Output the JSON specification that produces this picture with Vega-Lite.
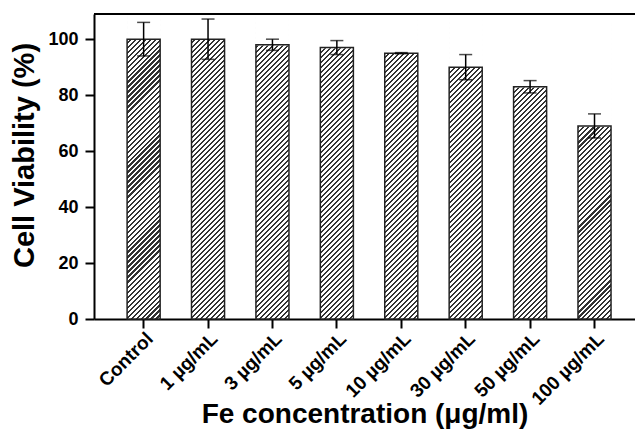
{
  "$schema": "https://vega.github.io/schema/vega-lite/v6.json",
  "width": 541,
  "height": 305,
  "autosize": {"type": "none"},
  "padding": {"left": 94, "top": 14, "right": 0, "bottom": 115},
  "background": "white",
  "config": {
    "view": {"stroke": null},
    "font": "Liberation Sans"
  },
  "data": {
    "values": [
      {"group": "Control", "mean": 100, "sd": 6},
      {"group": "1 µg/mL", "mean": 100, "sd": 7.2},
      {"group": "3 µg/mL", "mean": 98, "sd": 2},
      {"group": "5 µg/mL", "mean": 97, "sd": 2.5},
      {"group": "10 µg/mL", "mean": 95, "sd": 0.2},
      {"group": "30 µg/mL", "mean": 90, "sd": 4.5},
      {"group": "50 µg/mL", "mean": 83, "sd": 2.2},
      {"group": "100 µg/mL", "mean": 69, "sd": 4.3}
    ]
  },
  "layer": [
    {
      "mark": {
        "type": "bar",
        "stroke": null,
        "fill": {
          "gradient": "linear",
          "x1": 0, "y1": 0, "x2": 0.119371, "y2": 1.101821,
          "stops": [
            {"offset":0,"color":"#fff"},{"offset":0.0085,"color":"#fff"},{"offset":0.0085,"color":"#333"},{"offset":0.0147,"color":"#333"},
            {"offset":0.0147,"color":"#fff"},{"offset":0.0232,"color":"#fff"},{"offset":0.0232,"color":"#333"},{"offset":0.0294,"color":"#333"},
            {"offset":0.0294,"color":"#fff"},{"offset":0.0379,"color":"#fff"},{"offset":0.0379,"color":"#333"},{"offset":0.0441,"color":"#333"},
            {"offset":0.0441,"color":"#fff"},{"offset":0.0527,"color":"#fff"},{"offset":0.0527,"color":"#333"},{"offset":0.0588,"color":"#333"},
            {"offset":0.0588,"color":"#fff"},{"offset":0.0674,"color":"#fff"},{"offset":0.0674,"color":"#333"},{"offset":0.0735,"color":"#333"},
            {"offset":0.0735,"color":"#fff"},{"offset":0.0821,"color":"#fff"},{"offset":0.0821,"color":"#333"},{"offset":0.0882,"color":"#333"},
            {"offset":0.0882,"color":"#fff"},{"offset":0.0968,"color":"#fff"},{"offset":0.0968,"color":"#333"},{"offset":0.1029,"color":"#333"},
            {"offset":0.1029,"color":"#fff"},{"offset":0.1115,"color":"#fff"},{"offset":0.1115,"color":"#333"},{"offset":0.1176,"color":"#333"},
            {"offset":0.1176,"color":"#fff"},{"offset":0.1262,"color":"#fff"},{"offset":0.1262,"color":"#333"},{"offset":0.1324,"color":"#333"},
            {"offset":0.1324,"color":"#fff"},{"offset":0.1409,"color":"#fff"},{"offset":0.1409,"color":"#333"},{"offset":0.1471,"color":"#333"},
            {"offset":0.1471,"color":"#fff"},{"offset":0.1556,"color":"#fff"},{"offset":0.1556,"color":"#333"},{"offset":0.1618,"color":"#333"},
            {"offset":0.1618,"color":"#fff"},{"offset":0.1703,"color":"#fff"},{"offset":0.1703,"color":"#333"},{"offset":0.1765,"color":"#333"},
            {"offset":0.1765,"color":"#fff"},{"offset":0.1850,"color":"#fff"},{"offset":0.1850,"color":"#333"},{"offset":0.1912,"color":"#333"},
            {"offset":0.1912,"color":"#fff"},{"offset":0.1997,"color":"#fff"},{"offset":0.1997,"color":"#333"},{"offset":0.2059,"color":"#333"},
            {"offset":0.2059,"color":"#fff"},{"offset":0.2144,"color":"#fff"},{"offset":0.2144,"color":"#333"},{"offset":0.2206,"color":"#333"},
            {"offset":0.2206,"color":"#fff"},{"offset":0.2291,"color":"#fff"},{"offset":0.2291,"color":"#333"},{"offset":0.2353,"color":"#333"},
            {"offset":0.2353,"color":"#fff"},{"offset":0.2438,"color":"#fff"},{"offset":0.2438,"color":"#333"},{"offset":0.2500,"color":"#333"},
            {"offset":0.2500,"color":"#fff"},{"offset":0.2585,"color":"#fff"},{"offset":0.2585,"color":"#333"},{"offset":0.2647,"color":"#333"},
            {"offset":0.2647,"color":"#fff"},{"offset":0.2732,"color":"#fff"},{"offset":0.2732,"color":"#333"},{"offset":0.2794,"color":"#333"},
            {"offset":0.2794,"color":"#fff"},{"offset":0.2879,"color":"#fff"},{"offset":0.2879,"color":"#333"},{"offset":0.2941,"color":"#333"},
            {"offset":0.2941,"color":"#fff"},{"offset":0.3027,"color":"#fff"},{"offset":0.3027,"color":"#333"},{"offset":0.3088,"color":"#333"},
            {"offset":0.3088,"color":"#fff"},{"offset":0.3174,"color":"#fff"},{"offset":0.3174,"color":"#333"},{"offset":0.3235,"color":"#333"},
            {"offset":0.3235,"color":"#fff"},{"offset":0.3321,"color":"#fff"},{"offset":0.3321,"color":"#333"},{"offset":0.3382,"color":"#333"},
            {"offset":0.3382,"color":"#fff"},{"offset":0.3468,"color":"#fff"},{"offset":0.3468,"color":"#333"},{"offset":0.3529,"color":"#333"},
            {"offset":0.3529,"color":"#fff"},{"offset":0.3615,"color":"#fff"},{"offset":0.3615,"color":"#333"},{"offset":0.3676,"color":"#333"},
            {"offset":0.3676,"color":"#fff"},{"offset":0.3762,"color":"#fff"},{"offset":0.3762,"color":"#333"},{"offset":0.3824,"color":"#333"},
            {"offset":0.3824,"color":"#fff"},{"offset":0.3909,"color":"#fff"},{"offset":0.3909,"color":"#333"},{"offset":0.3971,"color":"#333"},
            {"offset":0.3971,"color":"#fff"},{"offset":0.4056,"color":"#fff"},{"offset":0.4056,"color":"#333"},{"offset":0.4118,"color":"#333"},
            {"offset":0.4118,"color":"#fff"},{"offset":0.4203,"color":"#fff"},{"offset":0.4203,"color":"#333"},{"offset":0.4265,"color":"#333"},
            {"offset":0.4265,"color":"#fff"},{"offset":0.4350,"color":"#fff"},{"offset":0.4350,"color":"#333"},{"offset":0.4412,"color":"#333"},
            {"offset":0.4412,"color":"#fff"},{"offset":0.4497,"color":"#fff"},{"offset":0.4497,"color":"#333"},{"offset":0.4559,"color":"#333"},
            {"offset":0.4559,"color":"#fff"},{"offset":0.4644,"color":"#fff"},{"offset":0.4644,"color":"#333"},{"offset":0.4706,"color":"#333"},
            {"offset":0.4706,"color":"#fff"},{"offset":0.4791,"color":"#fff"},{"offset":0.4791,"color":"#333"},{"offset":0.4853,"color":"#333"},
            {"offset":0.4853,"color":"#fff"},{"offset":0.4938,"color":"#fff"},{"offset":0.4938,"color":"#333"},{"offset":0.5000,"color":"#333"},
            {"offset":0.5000,"color":"#fff"},{"offset":0.5085,"color":"#fff"},{"offset":0.5085,"color":"#333"},{"offset":0.5147,"color":"#333"},
            {"offset":0.5147,"color":"#fff"},{"offset":0.5232,"color":"#fff"},{"offset":0.5232,"color":"#333"},{"offset":0.5294,"color":"#333"},
            {"offset":0.5294,"color":"#fff"},{"offset":0.5379,"color":"#fff"},{"offset":0.5379,"color":"#333"},{"offset":0.5441,"color":"#333"},
            {"offset":0.5441,"color":"#fff"},{"offset":0.5527,"color":"#fff"},{"offset":0.5527,"color":"#333"},{"offset":0.5588,"color":"#333"},
            {"offset":0.5588,"color":"#fff"},{"offset":0.5674,"color":"#fff"},{"offset":0.5674,"color":"#333"},{"offset":0.5735,"color":"#333"},
            {"offset":0.5735,"color":"#fff"},{"offset":0.5821,"color":"#fff"},{"offset":0.5821,"color":"#333"},{"offset":0.5882,"color":"#333"},
            {"offset":0.5882,"color":"#fff"},{"offset":0.5968,"color":"#fff"},{"offset":0.5968,"color":"#333"},{"offset":0.6029,"color":"#333"},
            {"offset":0.6029,"color":"#fff"},{"offset":0.6115,"color":"#fff"},{"offset":0.6115,"color":"#333"},{"offset":0.6176,"color":"#333"},
            {"offset":0.6176,"color":"#fff"},{"offset":0.6262,"color":"#fff"},{"offset":0.6262,"color":"#333"},{"offset":0.6324,"color":"#333"},
            {"offset":0.6324,"color":"#fff"},{"offset":0.6409,"color":"#fff"},{"offset":0.6409,"color":"#333"},{"offset":0.6471,"color":"#333"},
            {"offset":0.6471,"color":"#fff"},{"offset":0.6556,"color":"#fff"},{"offset":0.6556,"color":"#333"},{"offset":0.6618,"color":"#333"},
            {"offset":0.6618,"color":"#fff"},{"offset":0.6703,"color":"#fff"},{"offset":0.6703,"color":"#333"},{"offset":0.6765,"color":"#333"},
            {"offset":0.6765,"color":"#fff"},{"offset":0.6850,"color":"#fff"},{"offset":0.6850,"color":"#333"},{"offset":0.6912,"color":"#333"},
            {"offset":0.6912,"color":"#fff"},{"offset":0.6997,"color":"#fff"},{"offset":0.6997,"color":"#333"},{"offset":0.7059,"color":"#333"},
            {"offset":0.7059,"color":"#fff"},{"offset":0.7144,"color":"#fff"},{"offset":0.7144,"color":"#333"},{"offset":0.7206,"color":"#333"},
            {"offset":0.7206,"color":"#fff"},{"offset":0.7291,"color":"#fff"},{"offset":0.7291,"color":"#333"},{"offset":0.7353,"color":"#333"},
            {"offset":0.7353,"color":"#fff"},{"offset":0.7438,"color":"#fff"},{"offset":0.7438,"color":"#333"},{"offset":0.7500,"color":"#333"},
            {"offset":0.7500,"color":"#fff"},{"offset":0.7585,"color":"#fff"},{"offset":0.7585,"color":"#333"},{"offset":0.7647,"color":"#333"},
            {"offset":0.7647,"color":"#fff"},{"offset":0.7732,"color":"#fff"},{"offset":0.7732,"color":"#333"},{"offset":0.7794,"color":"#333"},
            {"offset":0.7794,"color":"#fff"},{"offset":0.7879,"color":"#fff"},{"offset":0.7879,"color":"#333"},{"offset":0.7941,"color":"#333"},
            {"offset":0.7941,"color":"#fff"},{"offset":0.8027,"color":"#fff"},{"offset":0.8027,"color":"#333"},{"offset":0.8088,"color":"#333"},
            {"offset":0.8088,"color":"#fff"},{"offset":0.8174,"color":"#fff"},{"offset":0.8174,"color":"#333"},{"offset":0.8235,"color":"#333"},
            {"offset":0.8235,"color":"#fff"},{"offset":0.8321,"color":"#fff"},{"offset":0.8321,"color":"#333"},{"offset":0.8382,"color":"#333"},
            {"offset":0.8382,"color":"#fff"},{"offset":0.8468,"color":"#fff"},{"offset":0.8468,"color":"#333"},{"offset":0.8529,"color":"#333"},
            {"offset":0.8529,"color":"#fff"},{"offset":0.8615,"color":"#fff"},{"offset":0.8615,"color":"#333"},{"offset":0.8676,"color":"#333"},
            {"offset":0.8676,"color":"#fff"},{"offset":0.8762,"color":"#fff"},{"offset":0.8762,"color":"#333"},{"offset":0.8824,"color":"#333"},
            {"offset":0.8824,"color":"#fff"},{"offset":0.8909,"color":"#fff"},{"offset":0.8909,"color":"#333"},{"offset":0.8971,"color":"#333"},
            {"offset":0.8971,"color":"#fff"},{"offset":0.9056,"color":"#fff"},{"offset":0.9056,"color":"#333"},{"offset":0.9118,"color":"#333"},
            {"offset":0.9118,"color":"#fff"},{"offset":0.9203,"color":"#fff"},{"offset":0.9203,"color":"#333"},{"offset":0.9265,"color":"#333"},
            {"offset":0.9265,"color":"#fff"},{"offset":0.9350,"color":"#fff"},{"offset":0.9350,"color":"#333"},{"offset":0.9412,"color":"#333"},
            {"offset":0.9412,"color":"#fff"},{"offset":0.9497,"color":"#fff"},{"offset":0.9497,"color":"#333"},{"offset":0.9559,"color":"#333"},
            {"offset":0.9559,"color":"#fff"},{"offset":0.9644,"color":"#fff"},{"offset":0.9644,"color":"#333"},{"offset":0.9706,"color":"#333"},
            {"offset":0.9706,"color":"#fff"},{"offset":0.9791,"color":"#fff"},{"offset":0.9791,"color":"#333"},{"offset":0.9853,"color":"#333"},
            {"offset":0.9853,"color":"#fff"},{"offset":0.9938,"color":"#fff"},{"offset":0.9938,"color":"#333"},{"offset":1,"color":"#333"}
          ]
        }
      },
      "encoding": {
        "x": {
          "field": "group", "type": "nominal", "sort": null, "title": "Fe concentration (μg/ml)",
          "scale": {"paddingInner": 0.487, "paddingOuter": 0.443, "align": 0.58},
          "axis": {
            "title": "Fe concentration (μg/ml)",
            "titleFontSize": 28, "titleFontWeight": "bold", "titleColor": "black",
            "titleY": 103, "titleBaseline": "alphabetic",
            "labelAngle": -45, "labelAlign": "right", "labelBaseline": "top",
            "labelFontSize": 19, "labelFontWeight": "bold", "labelColor": "black", "labelPadding": 1,
            "domainColor": "black", "domainWidth": 2,
            "tickColor": "black", "tickWidth": 2, "tickSize": 9
          }
        },
        "y": {
          "datum": 0, "type": "quantitative", "title": "Cell Viability (%)",
          "scale": {"domain": [0, 109], "nice": false, "zero": true},
          "axis": {
            "title": "Cell Viability (%)",
            "titleFontSize": 29, "titleFontWeight": "bold", "titleColor": "black",
            "titleX": -70, "titleY": 141, "titleBaseline": "middle",
            "values": [0, 10, 20, 30, 40, 50, 60, 70, 80, 90, 100],
            "labelExpr": "datum.value % 20 === 0 ? datum.label : ''",
            "labelFontSize": 18, "labelFontWeight": "bold", "labelColor": "black", "labelPadding": 7,
            "grid": false,
            "domainColor": "black", "domainWidth": 2,
            "tickColor": "black", "tickWidth": 2,
            "tickSize": {"condition": {"test": "datum.value % 20 === 0", "value": 9}, "value": 5}
          }
        },
        "y2": {"datum": 109}
      }
    },
    {
      "mark": {"type": "bar", "fill": "white", "stroke": "white", "strokeWidth": 1.5},
      "encoding": {
        "x": {"field": "group", "type": "nominal", "sort": null, "title": "Fe concentration (μg/ml)"},
        "y": {"field": "mean", "type": "quantitative", "title": "Cell Viability (%)"},
        "y2": {"datum": 109}
      }
    },
    {
      "mark": {"type": "bar", "fillOpacity": 0, "stroke": "#222", "strokeWidth": 1.5},
      "encoding": {
        "x": {"field": "group", "type": "nominal", "sort": null, "title": "Fe concentration (μg/ml)"},
        "y": {"field": "mean", "type": "quantitative", "title": "Cell Viability (%)"}
      }
    },
    {
      "mark": {"type": "errorbar", "ticks": true, "size": 13, "thickness": 1.5, "color": "black"},
      "encoding": {
        "x": {"field": "group", "type": "nominal", "sort": null, "title": "Fe concentration (μg/ml)"},
        "y": {"field": "mean", "type": "quantitative", "title": "Cell Viability (%)"},
        "yError": {"field": "sd"}
      }
    },
    {
      "mark": {"type": "rule", "color": "black", "strokeWidth": 2},
      "encoding": {
        "y": {"datum": 109}
      }
    }
  ]
}
